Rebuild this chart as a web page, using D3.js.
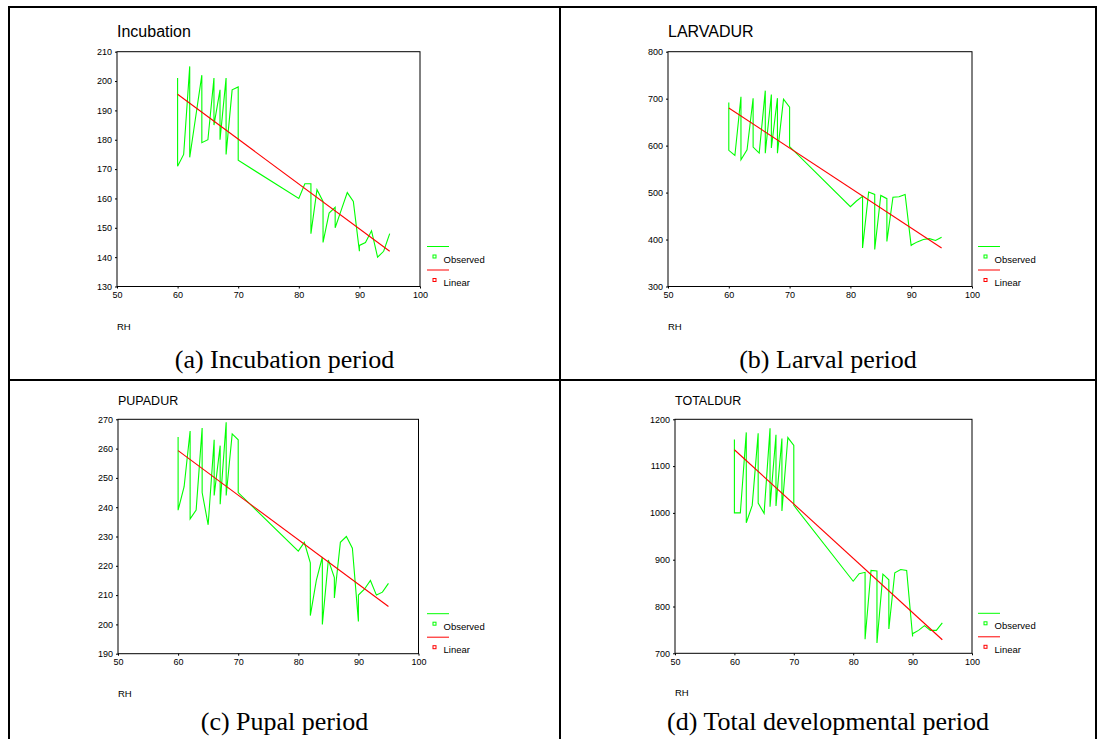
<!DOCTYPE html>
<html>
<head>
<meta charset="utf-8">
<script src="https://cdn.jsdelivr.net/npm/d3@7"></script>
<style>
body { margin: 0; background: #fff; }
svg text { font-family: "Liberation Sans", Arial, sans-serif; fill: #000; }
svg text.caption { font-family: "Liberation Serif", "Times New Roman", serif; }
</style>
</head>
<body>
<svg id="chart" width="1102" height="739"></svg>
<script>
/*------------------------
  -------- DATA ----------
  ------------------------*/

// relative humidity of each observation (sorted, ties kept in data order)
var rh = [60,60,61,62,62,63,64,64,65,66,66,67,67,68,68,69,70,70,
          80,81,82,82,83,84,84,85,86,86,87,88,89,90,90,91,92,93,94,95];

var incubation = [201,171,175,205,174,188,202,179,180,201,185,197,180,201,175,197,198,173,
                  160,165,165,148,163,159,145,155,157,150,156,162,159,142,144,145,149,140,142,148];
var larvadur   = [692,590,579,704,570,591,701,597,584,717,584,709,595,701,584,699,682,598,
                  470,482,492,382,501,496,379,494,487,396,490,491,496,386,388,395,400,402,398,405];
var pupadur    = [264,239,247,266,236,239,267,245,234,263,244,261,241,269,244,265,263,245,
                  225,228,221,203,215,223,200,222,216,209,228,230,226,201,210,212,215,210,211,214];
var totaldur   = [1157,1000,1000,1172,979,1016,1170,1021,999,1181,1013,1167,1015,1159,1004,1161,1144,1016,
                  854,870,873,730,877,876,722,869,857,752,872,879,877,736,742,749,759,749,749,765];

// linear fit, read at both ends of the RH range
var fit_rh = [60, 95];
var incubation_fit = [195.5, 142];
var larvadur_fit   = [680, 382];
var pupadur_fit    = [259.3, 206.1];
var totaldur_fit   = [1135, 729];

var rh_ticks = [50, 60, 70, 80, 90, 100];
var incubation_ticks = [130, 140, 150, 160, 170, 180, 190, 200, 210];
var larvadur_ticks   = [300, 400, 500, 600, 700, 800];
var pupadur_ticks    = [190, 200, 210, 220, 230, 240, 250, 260, 270];
var totaldur_ticks   = [700, 800, 900, 1000, 1100, 1200];

var titles   = ["Incubation", "LARVADUR", "PUPADUR", "TOTALDUR"];
var captions = ["(a) Incubation period", "(b) Larval period",
                "(c) Pupal period", "(d) Total developmental period"];
var legend_labels = ["Observed", "Linear"];

/*------------------------
  ------- LAYOUT ---------
  ------------------------*/

var col_left = [9, 560];
var col_right = [560, 1096];
var row_line = 380;

var panels = [
    { obs: incubation, fit: incubation_fit, ticks: incubation_ticks, col: 0,
      x0: 117, x1: 420, y0: 51.7, y1: 286.5, title_size: 16, cap_y: 368 },
    { obs: larvadur, fit: larvadur_fit, ticks: larvadur_ticks, col: 1,
      x0: 668, x1: 972, y0: 51.7, y1: 286.5, title_size: 16, cap_y: 368 },
    { obs: pupadur, fit: pupadur_fit, ticks: pupadur_ticks, col: 0,
      x0: 118, x1: 418.5, y0: 419.3, y1: 653.7, title_size: 12.5, cap_y: 730 },
    { obs: totaldur, fit: totaldur_fit, ticks: totaldur_ticks, col: 1,
      x0: 675, x1: 972, y0: 419.3, y1: 653.3, title_size: 12.5, cap_y: 730 }
];

var green = "#00ff00";
var red = "#ff0000";

/*------------------------
  -------- DRAW ----------
  ------------------------*/

var svg = d3.select("#chart");

function draw_table() {
    var t = svg.append("g").attr("class", "table");
    t.append("rect")
        .attr("x", 9).attr("y", 7)
        .attr("width", 1096 - 9).attr("height", 760)
        .attr("fill", "none").attr("stroke", "#000").attr("stroke-width", 2);
    t.append("line")
        .attr("x1", 560).attr("x2", 560).attr("y1", 7).attr("y2", 760)
        .attr("stroke", "#000").attr("stroke-width", 2);
    t.append("line")
        .attr("x1", 9).attr("x2", 1096).attr("y1", row_line).attr("y2", row_line)
        .attr("stroke", "#000").attr("stroke-width", 2);
}

function draw_panel(p, i) {
    var g = svg.append("g").attr("class", "panel");
    var dx = col_left[p.col] - col_left[0];

    var x = d3.scaleLinear()
        .domain([rh_ticks[0], rh_ticks[rh_ticks.length - 1]])
        .range([p.x0, p.x1]);
    var y = d3.scaleLinear()
        .domain([p.ticks[0], p.ticks[p.ticks.length - 1]])
        .range([p.y1, p.y0]);

    // title
    g.append("text")
        .attr("x", p.x0)
        .attr("y", p.y0 - 14.5)
        .style("font-size", p.title_size + "px")
        .text(titles[i]);

    // axes
    var xa = g.append("g")
        .attr("transform", "translate(0," + p.y1 + ")")
        .call(d3.axisBottom(x).tickValues(rh_ticks).tickFormat(d3.format("d"))
              .tickSize(2).tickPadding(3));
    var ya = g.append("g")
        .attr("transform", "translate(" + p.x0 + ",0)")
        .call(d3.axisLeft(y).tickValues(p.ticks).tickFormat(d3.format("d"))
              .tickSize(2).tickPadding(3));
    [xa, ya].forEach(function(a) {
        a.select(".domain").remove();
        a.selectAll("text").style("font-size", "9px").style("font-family", "Liberation Sans, Arial, sans-serif");
        a.selectAll("line").attr("stroke", "#000");
    });

    // frame
    g.append("rect")
        .attr("x", p.x0).attr("y", p.y0)
        .attr("width", p.x1 - p.x0).attr("height", p.y1 - p.y0)
        .attr("fill", "none").attr("stroke", "#000").attr("stroke-width", 1);

    // observed line
    var pts = rh.map(function(r, k) { return [r, p.obs[k]]; });
    var line = d3.line()
        .x(function(d) { return x(d[0]); })
        .y(function(d) { return y(d[1]); });

    g.append("path")
        .datum(pts)
        .attr("d", line)
        .attr("fill", "none")
        .attr("stroke", green)
        .attr("stroke-width", 1.1);

    // linear fit
    var fpts = fit_rh.map(function(r, k) { return [r, p.fit[k]]; });
    g.append("path")
        .datum(fpts)
        .attr("d", line)
        .attr("fill", "none")
        .attr("stroke", red)
        .attr("stroke-width", 1.1);

    // RH label
    g.append("text")
        .attr("x", p.x0)
        .attr("y", p.y1 + 43)
        .style("font-size", "9.5px")
        .text("RH");

    // legend
    var lx = 427 + dx;
    var cols = [green, red];
    cols.forEach(function(c, k) {
        var ly = p.y1 - 40 + k * 23.5;
        g.append("line")
            .attr("x1", lx).attr("x2", lx + 22)
            .attr("y1", ly).attr("y2", ly)
            .attr("stroke", c).attr("stroke-width", 1);
        g.append("rect")
            .attr("x", lx + 6).attr("y", ly + 8.5)
            .attr("width", 3).attr("height", 3)
            .attr("fill", "none").attr("stroke", c).attr("stroke-width", 1);
        g.append("text")
            .attr("x", lx + 16.5)
            .attr("y", ly + 16)
            .style("font-size", "9.5px")
            .text(legend_labels[k]);
    });

    // caption
    g.append("text")
        .attr("class", "caption")
        .attr("x", (col_left[p.col] + col_right[p.col]) / 2)
        .attr("y", p.cap_y)
        .attr("text-anchor", "middle")
        .style("font-size", "26px")
        .text(captions[i]);
}

/*---------------------
        -- RUN --
  ---------------------*/

draw_table();
panels.forEach(draw_panel);
</script>
</body>
</html>
